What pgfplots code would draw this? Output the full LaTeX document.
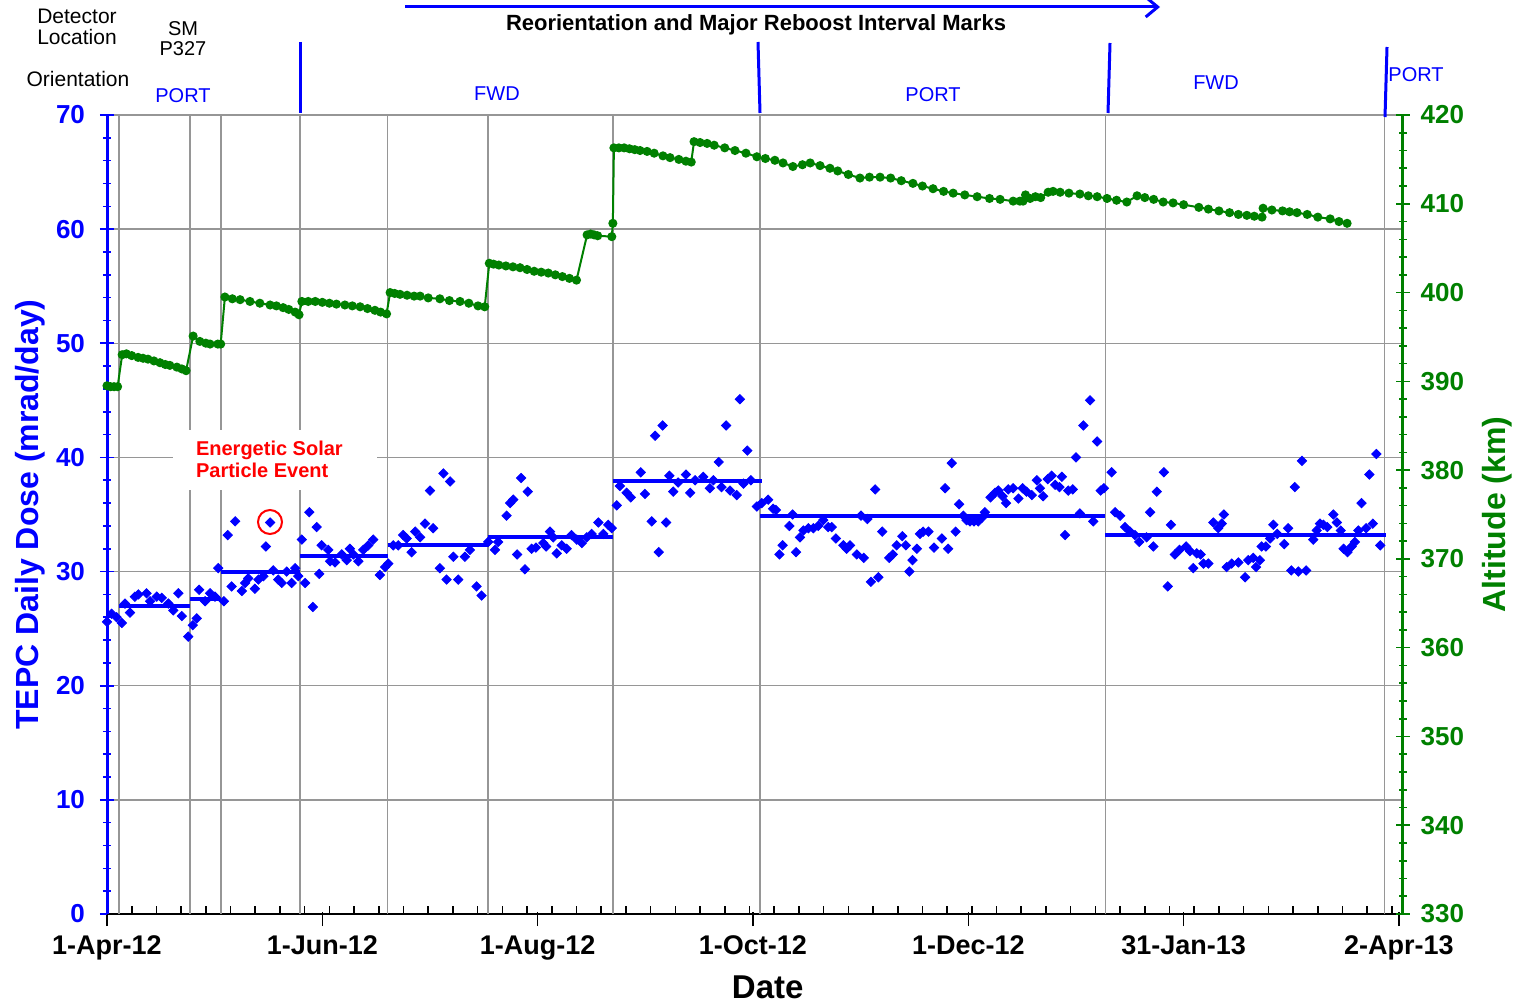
\documentclass[border=0pt]{standalone}
\usepackage{pgfplots}
\pgfplotsset{compat=1.18}
\usepackage{pgfplotstable}
\usetikzlibrary{arrows.meta}
\usepackage{fontspec}
\setmainfont{Liberation Sans}
\definecolor{dblue}{RGB}{0,0,255}
\definecolor{dgreen}{RGB}{0,128,0}
\definecolor{gridgray}{RGB}{150,150,150}

\pgfplotstableread{
d v
0 25.6
1.3 26.3
2.7 26.0
4.2 25.5
5.1 27.2
6.5 26.4
7.9 27.8
8.9 28.0
11.2 28.1
12.2 27.4
14.1 27.8
15.5 27.7
17.4 27.2
18.8 26.6
20.2 28.1
21.2 26.1
23.0 24.3
24.3 25.3
25.4 25.9
26.1 28.4
27.8 27.4
29.2 28.1
30.6 27.8
31.5 30.3
33.1 27.4
34.2 33.2
35.3 28.7
36.3 34.4
38.2 28.3
39.1 29.0
40.0 29.4
41.9 28.5
42.9 29.3
44.3 29.6
45.0 32.2
46.2 34.3
47.1 30.1
48.5 29.3
49.5 29.0
50.9 30.0
52.3 29.0
53.3 30.3
54.2 29.6
55.2 32.8
56.1 29.0
57.3 35.2
58.3 26.9
59.4 33.9
60.1 29.8
60.8 32.3
62.7 31.9
63.2 30.9
64.6 30.8
66.5 31.5
67.9 31.0
68.8 32.0
69.8 31.5
71.2 30.9
72.6 31.9
74.0 32.3
75.4 32.8
77.3 29.7
78.8 30.4
79.7 30.7
81.1 32.3
82.5 32.3
83.9 33.2
84.9 32.9
86.3 31.7
87.3 33.5
88.7 33.0
90.1 34.2
91.5 37.1
92.4 33.8
94.3 30.3
95.3 38.6
96.2 29.3
97.2 37.9
98.1 31.3
99.5 29.3
101.4 31.3
102.8 31.9
104.7 28.7
106.1 27.9
108.0 32.6
109.9 31.9
110.8 32.6
113.2 34.9
114.2 36.0
115.1 36.3
116.2 31.5
117.3 38.2
118.4 30.2
119.2 37.0
120.3 32.0
121.5 32.1
123.6 32.5
124.4 32.2
125.5 33.5
126.4 33.0
127.4 31.6
128.8 32.3
130.2 32.0
131.6 33.2
133.1 32.8
134.5 32.5
135.9 33.0
137.3 33.3
139.2 34.3
140.6 33.3
142.0 34.1
143.0 33.8
144.4 35.8
145.3 37.5
147.2 36.9
148.4 36.5
151.2 38.7
152.4 36.8
154.3 34.4
155.3 41.9
156.3 31.7
157.4 42.8
158.4 34.3
159.3 38.4
160.4 37.0
161.8 37.8
164.0 38.5
165.2 36.9
166.6 38.0
168.9 38.3
170.8 37.3
171.8 38.0
173.3 39.6
174.1 37.4
175.4 42.8
176.5 37.1
178.4 36.7
179.3 45.1
180.3 37.7
181.4 40.6
182.4 38.0
184.1 35.7
185.5 36.0
187.3 36.3
188.7 35.5
189.5 35.4
190.5 31.5
191.4 32.3
193.3 34.0
194.2 35.0
195.2 31.7
196.3 33.0
197.3 33.6
198.7 33.8
200.1 33.8
201.5 34.0
202.9 34.5
204.3 33.9
205.3 33.9
206.5 32.9
208.6 32.3
209.5 32.0
210.5 32.3
212.4 31.5
213.6 34.9
214.4 31.2
215.4 34.6
216.4 29.1
217.6 37.2
218.5 29.5
219.6 33.5
221.6 31.2
222.6 31.5
223.7 32.3
225.3 33.1
226.3 32.3
227.3 30.0
228.2 31.0
229.4 32.0
230.3 33.3
231.2 33.5
232.7 33.5
234.3 32.1
236.5 32.9
237.4 37.3
238.3 32.0
239.3 39.5
240.4 33.5
241.4 35.9
242.6 34.9
243.5 34.5
244.5 34.4
245.6 34.4
246.8 34.4
247.8 34.7
248.7 35.2
250.3 36.5
251.6 36.9
252.5 37.1
253.7 36.6
254.7 36.0
255.3 37.2
256.7 37.3
258.2 36.4
259.4 37.3
260.5 37.0
262.0 36.7
263.4 38.0
264.3 37.3
265.2 36.6
266.5 38.1
267.6 38.4
268.6 37.6
269.8 37.4
270.5 38.3
271.4 33.2
272.3 37.1
273.6 37.2
274.5 40.0
275.6 35.1
276.6 42.8
278.5 45.0
279.4 34.4
280.5 41.4
281.5 37.1
282.4 37.3
284.6 38.7
285.6 35.2
287.0 34.9
288.4 33.9
289.8 33.5
291.2 33.2
292.4 32.6
294.5 33.0
295.5 35.2
296.4 32.2
297.4 37.0
299.4 38.7
300.5 28.7
301.4 34.1
302.5 31.5
303.8 31.9
305.7 32.2
306.8 31.8
307.7 30.3
308.7 31.6
309.8 31.5
310.6 30.7
312.0 30.7
313.4 34.3
314.8 33.8
315.8 34.2
316.4 35.0
317.2 30.4
318.6 30.7
320.5 30.8
322.4 29.5
323.3 31.0
324.7 31.2
325.5 30.4
326.6 31.0
327.1 32.2
328.3 32.2
329.5 32.9
330.4 34.1
331.5 33.3
333.5 32.4
334.6 33.8
335.5 30.1
336.5 37.4
337.5 30.0
338.5 39.7
339.7 30.1
341.7 32.8
342.7 33.6
343.6 34.2
344.6 34.1
345.7 33.9
347.4 35.0
348.4 34.3
349.5 33.6
350.3 32.0
351.4 31.7
352.6 32.2
353.5 32.6
354.5 33.6
355.4 36.0
356.7 33.8
357.6 38.5
358.6 34.2
359.6 40.3
360.7 32.3
}\dosetable

\pgfplotstableread{
d a
0 389.5
1 389.4
2 389.4
3 389.4
4.3 393.0
5.5 393.1
7 392.9
8.8 392.7
10.2 392.6
11.6 392.5
13.3 392.3
15 392.1
16.5 391.9
17.8 391.8
19.8 391.6
21.2 391.4
22.4 391.2
24.4 395.1
26.3 394.5
28 394.3
29.2 394.2
31.4 394.2
32.2 394.2
33.4 399.5
35.5 399.3
37.7 399.2
40.5 399.0
43.3 398.8
46.2 398.6
48 398.5
49.9 398.3
51.5 398.1
53.3 397.8
54.4 397.5
55.2 399.0
57 399.0
59 399.0
61 398.9
63 398.8
65 398.7
67.4 398.6
69.5 398.5
71.7 398.4
73.8 398.2
75.9 398.0
77.5 397.8
79.2 397.6
80.2 400.0
81.5 399.9
83 399.8
85 399.7
87 399.6
88.7 399.6
91 399.4
94.3 399.3
97 399.1
100 399.0
102.5 398.8
105.1 398.5
107 398.4
108.3 403.3
109.5 403.2
111 403.1
113 403.0
115 402.9
117 402.8
119 402.6
121 402.4
123 402.3
125 402.2
127 402.0
129 401.8
131 401.6
133 401.4
136 406.5
137 406.6
138 406.5
139 406.4
143 406.3
143.3 407.8
143.6 416.3
145 416.3
146.5 416.3
148 416.2
149.5 416.1
151 416.0
153 415.9
155 415.7
157.5 415.4
159.5 415.2
162 415.0
164 414.8
165.5 414.7
166.3 417.0
168 416.9
170 416.8
172 416.6
175 416.3
177.9 416.0
181 415.7
184.1 415.3
186.5 415.1
189.2 414.9
191.5 414.6
194.3 414.2
197 414.4
199.2 414.6
202 414.3
204.8 414.0
207 413.7
210 413.3
213.3 412.9
216 413.0
219 413.0
222 412.9
225 412.6
228.3 412.3
231 412.0
234 411.7
237 411.4
239.7 411.2
243 411.0
246.5 410.8
250 410.6
253 410.5
256.7 410.3
258.6 410.3
259.5 410.3
260.2 411.0
261.5 410.6
263 410.8
264.5 410.7
266.6 411.3
268 411.4
270 411.3
272.5 411.2
275.6 411.1
278 410.9
280.5 410.8
283.3 410.6
286 410.4
288.9 410.2
291.8 410.9
294 410.7
296.5 410.5
299.2 410.2
302 410.1
305 409.9
309.3 409.6
312 409.4
315 409.2
318 409.0
320.5 408.8
322.9 408.7
325 408.6
327.2 408.5
327.5 409.5
330 409.3
333 409.2
335 409.1
337.1 409.0
340 408.8
343 408.5
346.5 408.3
349 408.0
351.3 407.8
}\alttable

\begin{document}
\begin{tikzpicture}
\begin{axis}[
  scale only axis, width=647.75pt, height=399.5pt,
  xmin=0, xmax=367, ymin=0, ymax=70,
  clip=false,
  axis x line*=bottom, axis y line*=left,
  x axis line style={-, black, line width=1pt},
  y axis line style={-, dblue, line width=1.5pt},
  xtick={0,61,122,183,244,305,366},
  xticklabels={1-Apr-12,1-Jun-12,1-Aug-12,1-Oct-12,1-Dec-12,31-Jan-13,2-Apr-13},
  minor xtick={7,14,...,364},
  ytick={0,10,...,70}, minor y tick num=4,
  tick align=center,
  major tick length=7pt, minor tick length=4pt,
  x tick style={black, line width=0.8pt},
  every major x tick/.append style={yshift=-2.5pt},
  every minor x tick/.append style={yshift=2pt},
  y tick style={dblue, line width=0.8pt},
  ymajorgrids, major grid style={gridgray, line width=0.7pt},
  extra x ticks={3.4,23.5,32.3,54.7,79.5,107.9,143.3,185,282.8,361.9},
  extra x tick labels={},
  extra x tick style={grid=major, major tick length=0pt},
  /pgf/number format/assume math mode=true,
  xticklabel style={font=\fontsize{13.5}{13.5}\selectfont\bfseries, black, yshift=-4pt},
  yticklabel style={font=\fontsize{13}{13}\selectfont\bfseries, dblue, xshift=-4pt},
  xlabel={Date},
  xlabel style={font=\fontsize{16.5}{16.5}\selectfont\bfseries, at={(axis description cs:0.51,-0.0914)}, anchor=center},
  ylabel={TEPC Daily Dose (mrad/day)},
  ylabel style={font=\fontsize{16}{16}\selectfont\bfseries, dblue, at={(axis description cs:-0.0594,0.5)}, anchor=center},
]
\addplot[only marks, mark=square*, mark size=1.65pt, mark options={rotate=45}, dblue] table[x=d,y=v]{\dosetable};
\addplot[dblue, line width=2pt, no marks] coordinates {(3.4,27.0)(23.5,27.0)};
\addplot[dblue, line width=2pt, no marks] coordinates {(23.5,27.6)(32.3,27.6)};
\addplot[dblue, line width=2pt, no marks] coordinates {(32.3,30.0)(54.7,30.0)};
\addplot[dblue, line width=2pt, no marks] coordinates {(54.7,31.4)(79.5,31.4)};
\addplot[dblue, line width=2pt, no marks] coordinates {(79.5,32.3)(107.9,32.3)};
\addplot[dblue, line width=2pt, no marks] coordinates {(107.9,33.0)(143.3,33.0)};
\addplot[dblue, line width=2pt, no marks] coordinates {(143.3,37.9)(185.5,37.9)};
\addplot[dblue, line width=2pt, no marks] coordinates {(185,34.9)(282.8,34.9)};
\addplot[dblue, line width=2pt, no marks] coordinates {(282.8,33.2)(362.2,33.2)};
\end{axis}

\begin{axis}[
  scale only axis, width=647.75pt, height=399.5pt,
  xmin=0, xmax=367, ymin=330, ymax=420,
  clip=false,
  axis y line*=right, axis x line=none,
  y axis line style={-, dgreen, line width=1.5pt},
  ytick={330,340,...,420}, minor y tick num=4,
  tick align=center,
  major tick length=7pt, minor tick length=4pt,
  y tick style={dgreen, line width=0.8pt},
  /pgf/number format/assume math mode=true,
  yticklabel style={font=\fontsize{13}{13}\selectfont\bfseries, dgreen, xshift=2pt},
  ylabel={Altitude (km)},
  ylabel style={font=\fontsize{16}{16}\selectfont\bfseries, dgreen, at={(axis description cs:1.073,0.5)}, anchor=center},
]
\addplot[dgreen, line width=1pt, mark=*, mark size=1.75pt] table[x=d,y=a]{\alttable};
\end{axis}

\begin{scope}[shift={(-53.5pt,457pt)}, x=0.5pt, y=-0.5pt]
  \fill[white] (173,430) rectangle (377,490);
  \node[red, font=\fontsize{10}{10}\selectfont\bfseries, anchor=west] at (189,450) {Energetic Solar};
  \node[red, font=\fontsize{10}{10}\selectfont\bfseries, anchor=west] at (189,470) {Particle Event};
  \draw[red, line width=1pt] (270,522) circle[radius=12];
  \node[font=\fontsize{10.5}{10.5}\selectfont] at (77,16) {Detector};
  \node[font=\fontsize{10.5}{10.5}\selectfont] at (77,37) {Location};
  \node[font=\fontsize{10.5}{10.5}\selectfont] at (78,79) {Orientation};
  \node[font=\fontsize{10}{10}\selectfont] at (183,29) {SM};
  \node[font=\fontsize{10}{10}\selectfont] at (183,49) {P327};
  \node[dblue, font=\fontsize{10}{10}\selectfont] at (183,96) {PORT};
  \node[dblue, font=\fontsize{10}{10}\selectfont] at (497,94) {FWD};
  \node[dblue, font=\fontsize{10}{10}\selectfont] at (933,95) {PORT};
  \node[dblue, font=\fontsize{10}{10}\selectfont] at (1216,83) {FWD};
  \node[dblue, font=\fontsize{10}{10}\selectfont] at (1416,75) {PORT};
  \node[font=\fontsize{11}{11}\selectfont\bfseries] at (756,25) {Reorientation and Major Reboost Interval Marks};
  \draw[dblue, line width=1.5pt, -{Straight Barb[length=6pt,width=10pt]}] (405,7) -- (1160,7);
  \draw[dblue, line width=1.5pt] (300,42) -- (300,113);
  \draw[dblue, line width=1.5pt] (758,42) -- (760,113);
  \draw[dblue, line width=1.5pt] (1110,43) -- (1108,113);
  \draw[dblue, line width=1.5pt] (1387,47) -- (1385,117);
  \pgfresetboundingbox
  \path (0,0) rectangle (1524,1003);
\end{scope}
\end{tikzpicture}
\end{document}
